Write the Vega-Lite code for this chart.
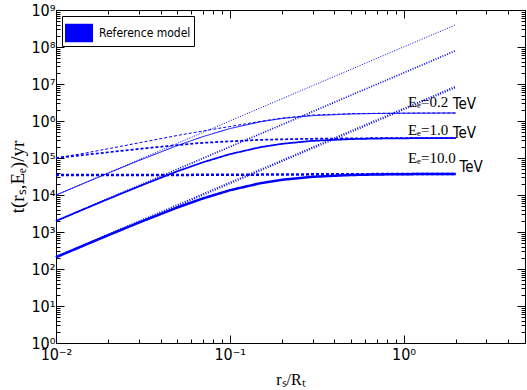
{
  "$schema": "https://vega.github.io/schema/vega-lite/v6.json",
  "width": 469,
  "height": 333,
  "autosize": "none",
  "padding": {"left": 56, "top": 10, "right": 2, "bottom": 47},
  "background": "white",
  "config": {
    "font": "DejaVu Sans Condensed, Liberation Sans",
    "view": {"stroke": "#000", "strokeWidth": 1}
  },
  "datasets": {
    "curves": [
      {"r": 0.01, "t": 9940, "E": "0.2", "kind": "solid"},
      {"r": 0.015, "t": 22200, "E": "0.2", "kind": "solid"},
      {"r": 0.02, "t": 39050, "E": "0.2", "kind": "solid"},
      {"r": 0.03, "t": 85350, "E": "0.2", "kind": "solid"},
      {"r": 0.05, "t": 217100, "E": "0.2", "kind": "solid"},
      {"r": 0.07, "t": 377800, "E": "0.2", "kind": "solid"},
      {"r": 0.1, "t": 622700, "E": "0.2", "kind": "solid"},
      {"r": 0.15, "t": 952000, "E": "0.2", "kind": "solid"},
      {"r": 0.2, "t": 1168000, "E": "0.2", "kind": "solid"},
      {"r": 0.3, "t": 1394000, "E": "0.2", "kind": "solid"},
      {"r": 0.5, "t": 1548000, "E": "0.2", "kind": "solid"},
      {"r": 0.7, "t": 1596000, "E": "0.2", "kind": "solid"},
      {"r": 1, "t": 1623000, "E": "0.2", "kind": "solid"},
      {"r": 1.5, "t": 1638000, "E": "0.2", "kind": "solid"},
      {"r": 2, "t": 1643000, "E": "0.2", "kind": "solid"},
      {"r": 0.01, "t": 1988, "E": "1.0", "kind": "solid"},
      {"r": 0.015, "t": 4443, "E": "1.0", "kind": "solid"},
      {"r": 0.02, "t": 7820, "E": "1.0", "kind": "solid"},
      {"r": 0.03, "t": 17110, "E": "1.0", "kind": "solid"},
      {"r": 0.05, "t": 43710, "E": "1.0", "kind": "solid"},
      {"r": 0.07, "t": 76430, "E": "1.0", "kind": "solid"},
      {"r": 0.1, "t": 126900, "E": "1.0", "kind": "solid"},
      {"r": 0.15, "t": 196000, "E": "1.0", "kind": "solid"},
      {"r": 0.2, "t": 242100, "E": "1.0", "kind": "solid"},
      {"r": 0.3, "t": 291100, "E": "1.0", "kind": "solid"},
      {"r": 0.5, "t": 324700, "E": "1.0", "kind": "solid"},
      {"r": 0.7, "t": 335300, "E": "1.0", "kind": "solid"},
      {"r": 1, "t": 341300, "E": "1.0", "kind": "solid"},
      {"r": 1.5, "t": 344600, "E": "1.0", "kind": "solid"},
      {"r": 2, "t": 345700, "E": "1.0", "kind": "solid"},
      {"r": 0.01, "t": 208.8, "E": "10.0", "kind": "solid"},
      {"r": 0.015, "t": 466.6, "E": "10.0", "kind": "solid"},
      {"r": 0.02, "t": 821.4, "E": "10.0", "kind": "solid"},
      {"r": 0.03, "t": 1799, "E": "10.0", "kind": "solid"},
      {"r": 0.05, "t": 4601, "E": "10.0", "kind": "solid"},
      {"r": 0.07, "t": 8061, "E": "10.0", "kind": "solid"},
      {"r": 0.1, "t": 13420, "E": "10.0", "kind": "solid"},
      {"r": 0.15, "t": 20810, "E": "10.0", "kind": "solid"},
      {"r": 0.2, "t": 25780, "E": "10.0", "kind": "solid"},
      {"r": 0.3, "t": 31080, "E": "10.0", "kind": "solid"},
      {"r": 0.5, "t": 34740, "E": "10.0", "kind": "solid"},
      {"r": 0.7, "t": 35910, "E": "10.0", "kind": "solid"},
      {"r": 1, "t": 36560, "E": "10.0", "kind": "solid"},
      {"r": 1.5, "t": 36910, "E": "10.0", "kind": "solid"},
      {"r": 2, "t": 37040, "E": "10.0", "kind": "solid"},
      {"r": 0.01, "t": 100000, "E": "0.2", "kind": "dashed"},
      {"r": 0.015, "t": 138000, "E": "0.2", "kind": "dashed"},
      {"r": 0.02, "t": 178000, "E": "0.2", "kind": "dashed"},
      {"r": 0.03, "t": 257000, "E": "0.2", "kind": "dashed"},
      {"r": 0.05, "t": 407000, "E": "0.2", "kind": "dashed"},
      {"r": 0.07, "t": 537000, "E": "0.2", "kind": "dashed"},
      {"r": 0.1, "t": 708000, "E": "0.2", "kind": "dashed"},
      {"r": 0.15, "t": 977000, "E": "0.2", "kind": "dashed"},
      {"r": 0.2, "t": 1202000, "E": "0.2", "kind": "dashed"},
      {"r": 0.3, "t": 1445000, "E": "0.2", "kind": "dashed"},
      {"r": 0.5, "t": 1580000, "E": "0.2", "kind": "dashed"},
      {"r": 0.7, "t": 1610000, "E": "0.2", "kind": "dashed"},
      {"r": 1, "t": 1630000, "E": "0.2", "kind": "dashed"},
      {"r": 1.5, "t": 1640000, "E": "0.2", "kind": "dashed"},
      {"r": 2, "t": 1643000, "E": "0.2", "kind": "dashed"},
      {"r": 0.01, "t": 100000, "E": "1.0", "kind": "dashed"},
      {"r": 0.015, "t": 123000, "E": "1.0", "kind": "dashed"},
      {"r": 0.02, "t": 143000, "E": "1.0", "kind": "dashed"},
      {"r": 0.03, "t": 175800, "E": "1.0", "kind": "dashed"},
      {"r": 0.05, "t": 223900, "E": "1.0", "kind": "dashed"},
      {"r": 0.07, "t": 257000, "E": "1.0", "kind": "dashed"},
      {"r": 0.1, "t": 281800, "E": "1.0", "kind": "dashed"},
      {"r": 0.15, "t": 309000, "E": "1.0", "kind": "dashed"},
      {"r": 0.2, "t": 320000, "E": "1.0", "kind": "dashed"},
      {"r": 0.3, "t": 331000, "E": "1.0", "kind": "dashed"},
      {"r": 0.5, "t": 339000, "E": "1.0", "kind": "dashed"},
      {"r": 0.7, "t": 343000, "E": "1.0", "kind": "dashed"},
      {"r": 1, "t": 345000, "E": "1.0", "kind": "dashed"},
      {"r": 1.5, "t": 345500, "E": "1.0", "kind": "dashed"},
      {"r": 2, "t": 345700, "E": "1.0", "kind": "dashed"},
      {"r": 0.01, "t": 34500, "E": "10.0", "kind": "dashed"},
      {"r": 0.015, "t": 34550, "E": "10.0", "kind": "dashed"},
      {"r": 0.02, "t": 34600, "E": "10.0", "kind": "dashed"},
      {"r": 0.03, "t": 34700, "E": "10.0", "kind": "dashed"},
      {"r": 0.05, "t": 34900, "E": "10.0", "kind": "dashed"},
      {"r": 0.07, "t": 35050, "E": "10.0", "kind": "dashed"},
      {"r": 0.1, "t": 35250, "E": "10.0", "kind": "dashed"},
      {"r": 0.15, "t": 35550, "E": "10.0", "kind": "dashed"},
      {"r": 0.2, "t": 35800, "E": "10.0", "kind": "dashed"},
      {"r": 0.3, "t": 36150, "E": "10.0", "kind": "dashed"},
      {"r": 0.5, "t": 36500, "E": "10.0", "kind": "dashed"},
      {"r": 0.7, "t": 36700, "E": "10.0", "kind": "dashed"},
      {"r": 1, "t": 36850, "E": "10.0", "kind": "dashed"},
      {"r": 1.5, "t": 36950, "E": "10.0", "kind": "dashed"},
      {"r": 2, "t": 37040, "E": "10.0", "kind": "dashed"},
      {"r": 0.01, "t": 10000, "E": "0.2", "kind": "dotted"},
      {"r": 0.1, "t": 1000000, "E": "0.2", "kind": "dotted"},
      {"r": 1, "t": 100000000, "E": "0.2", "kind": "dotted"},
      {"r": 2, "t": 400000000, "E": "0.2", "kind": "dotted"},
      {"r": 0.01, "t": 2000, "E": "1.0", "kind": "dotted"},
      {"r": 0.1, "t": 200000, "E": "1.0", "kind": "dotted"},
      {"r": 1, "t": 20000000, "E": "1.0", "kind": "dotted"},
      {"r": 2, "t": 80000000, "E": "1.0", "kind": "dotted"},
      {"r": 0.01, "t": 210, "E": "10.0", "kind": "dotted"},
      {"r": 0.1, "t": 21000, "E": "10.0", "kind": "dotted"},
      {"r": 1, "t": 2100000, "E": "10.0", "kind": "dotted"},
      {"r": 2, "t": 8400000, "E": "10.0", "kind": "dotted"}
    ],
    "labels": [
      {"x": 1.06, "y": 2390000, "text": "Eₑ=0.2", "part": "math"},
      {"x": 1.06, "y": 418000, "text": "Eₑ=1.0", "part": "math"},
      {"x": 1.06, "y": 73000, "text": "Eₑ=10.0", "part": "math"},
      {"x": 1.92, "y": 2110000, "text": "TeV", "part": "unit"},
      {"x": 1.92, "y": 347000, "text": "TeV", "part": "unit"},
      {"x": 2.1, "y": 41800, "text": "TeV", "part": "unit"}
    ]
  },
  "layer": [
    {
      "data": {"name": "curves"},
      "mark": {"type": "line"},
      "encoding": {
        "x": {
          "field": "r", "type": "quantitative",
          "scale": {"type": "log", "domain": [0.01, 5], "nice": false},
          "axis": {
            "orient": "bottom", "tickCount": 30, "grid": false,
            "labelExpr": "abs(log(datum.value)/LN10-round(log(datum.value)/LN10))<0.001 ? '10' + (round(log(datum.value)/LN10) < 0 ? '⁻' : '') + ['⁰','¹','²','³','⁴','⁵','⁶','⁷','⁸','⁹'][abs(round(log(datum.value)/LN10))] : ''",
            "labelOverlap": false, "labelFlush": false,
            "tickSize": {"condition": {"test": "abs(log(datum.value)/LN10-round(log(datum.value)/LN10))<0.001", "value": -8}, "value": -4},
            "tickColor": "#000", "domainColor": "#000",
            "labelFont": "DejaVu Sans Condensed, Liberation Sans", "labelFontSize": 16, "labelColor": "#000", "labelPadding": 11,
            "title": "rₛ/Rₜ", "titleFont": "Liberation Serif", "titleFontSize": 16, "titleFontWeight": "normal", "titleColor": "#000", "titlePadding": 5
          }
        },
        "y": {
          "field": "t", "type": "quantitative",
          "scale": {"type": "log", "domain": [1, 1000000000], "nice": false},
          "axis": {
            "orient": "left", "tickCount": 30, "grid": false,
            "labelExpr": "abs(log(datum.value)/LN10-round(log(datum.value)/LN10))<0.001 ? '10' + (round(log(datum.value)/LN10) < 0 ? '⁻' : '') + ['⁰','¹','²','³','⁴','⁵','⁶','⁷','⁸','⁹'][abs(round(log(datum.value)/LN10))] : ''",
            "labelOverlap": false, "labelFlush": false,
            "tickSize": {"condition": {"test": "abs(log(datum.value)/LN10-round(log(datum.value)/LN10))<0.001", "value": -8}, "value": -4},
            "tickColor": "#000", "domainColor": "#000",
            "labelFont": "DejaVu Sans Condensed, Liberation Sans", "labelFontSize": 16, "labelColor": "#000", "labelPadding": 9,
            "title": "t(rₛ,Eₑ)/yr", "titleFont": "Liberation Serif", "titleFontSize": 19, "titleFontWeight": "normal", "titleColor": "#000", "titlePadding": 3
          }
        },
        "color": {
          "datum": "Reference model", "type": "nominal",
          "scale": {"range": ["#0000ff"]},
          "legend": {
            "title": null, "orient": "top-left", "offset": 6, "padding": 3,
            "strokeColor": "#000", "fillColor": "#fff", "cornerRadius": 0,
            "symbolType": "M-1,-0.66H1V0.66H-1Z", "symbolSize": 784,
            "symbolFillColor": "#0000ff", "symbolStrokeWidth": 0,
            "labelFont": "DejaVu Sans Condensed, Liberation Sans", "labelFontSize": 12, "labelColor": "#000", "labelOffset": 6,
            "encode": {"symbols": {"update": {"fill": {"value": "#0000ff"}, "stroke": {"value": "transparent"}, "opacity": {"value": 1}}}}
          }
        },
        "size": {
          "field": "E", "type": "ordinal",
          "scale": {"domain": ["0.2", "1.0", "10.0"], "range": [1, 2.5, 4.5]},
          "legend": null
        },
        "strokeDash": {
          "field": "kind", "type": "nominal",
          "scale": {"domain": ["solid", "dashed", "dotted"], "range": [[1, 0], [3, 2], [1, 1.5]]},
          "legend": null
        },
        "detail": [{"field": "E"}, {"field": "kind"}]
      }
    },
    {
      "data": {"name": "labels"},
      "transform": [{"filter": "datum.part === 'math'"}],
      "mark": {"type": "text", "align": "left", "baseline": "alphabetic", "font": "Liberation Serif", "fontSize": 15, "color": "#000"},
      "encoding": {
        "x": {
          "field": "x", "type": "quantitative",
          "scale": {"type": "log", "domain": [0.01, 5], "nice": false},
          "axis": {
            "orient": "top", "tickCount": 30, "grid": false, "labels": false, "title": null,
            "tickSize": {"condition": {"test": "abs(log(datum.value)/LN10-round(log(datum.value)/LN10))<0.001", "value": -8}, "value": -4},
            "tickColor": "#000", "domainColor": "#000"
          }
        },
        "y": {
          "field": "y", "type": "quantitative",
          "scale": {"type": "log", "domain": [1, 1000000000], "nice": false},
          "axis": {
            "orient": "right", "tickCount": 30, "grid": false, "labels": false, "title": null,
            "tickSize": {"condition": {"test": "abs(log(datum.value)/LN10-round(log(datum.value)/LN10))<0.001", "value": -8}, "value": -4},
            "tickColor": "#000", "domainColor": "#000"
          }
        },
        "text": {"field": "text", "type": "nominal"}
      }
    },
    {
      "data": {"name": "labels"},
      "transform": [{"filter": "datum.part === 'unit'"}],
      "mark": {"type": "text", "align": "left", "baseline": "alphabetic", "font": "DejaVu Sans Condensed, Liberation Sans", "fontSize": 15, "color": "#000"},
      "encoding": {
        "x": {"field": "x", "type": "quantitative", "scale": {"type": "log", "domain": [0.01, 5], "nice": false}, "axis": null},
        "y": {"field": "y", "type": "quantitative", "scale": {"type": "log", "domain": [1, 1000000000], "nice": false}, "axis": null},
        "text": {"field": "text", "type": "nominal"}
      }
    }
  ]
}
